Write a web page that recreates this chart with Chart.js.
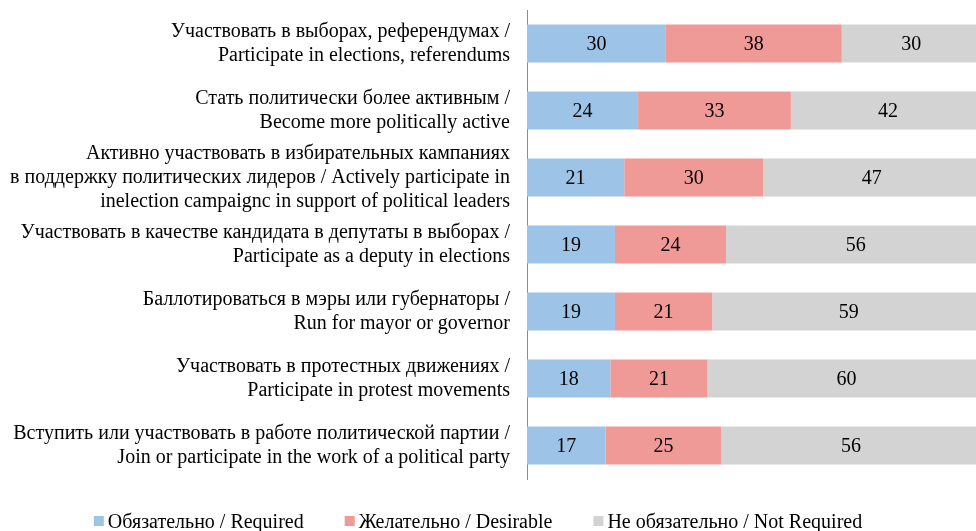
<!DOCTYPE html>
<html>
<head>
<meta charset="utf-8">
<script src="https://cdn.jsdelivr.net/npm/chart.js@4/dist/chart.umd.min.js"></script>
<style>
html,body{margin:0;padding:0;background:#fff;overflow:hidden;}
#wrap{position:relative;width:976px;height:531px;}
</style>
</head>
<body>
<div id="wrap"><canvas id="c"></canvas></div>
<script>
const categories = [
  ["Участвовать в выборах, референдумах /", "Participate in elections, referendums"],
  ["Стать политически более активным /", "Become more politically active"],
  ["Активно участвовать в избирательных кампаниях", "в поддержку политических лидеров / Actively participate in", "inelection campaignc in support of political leaders"],
  ["Участвовать в качестве кандидата в депутаты в выборах /", "Participate as a deputy in elections"],
  ["Баллотироваться в мэры или губернаторы /", "Run for mayor or governor"],
  ["Участвовать в протестных движениях /", "Participate in protest movements"],
  ["Вступить или участвовать в работе политической партии /", "Join or participate in the work of a political party"]
];
const seriesNames = ["Обязательно / Required", "Желательно / Desirable", "Не обязательно / Not Required"];
const required = [30, 24, 21, 19, 19, 18, 17];
const desirable = [38, 33, 30, 24, 21, 21, 25];
const notRequired = [30, 42, 47, 56, 59, 60, 56];

const FONT = "'Liberation Serif', 'Times New Roman', serif";
const FS = 20;

const valueLabels = {
  id: 'valueLabels',
  afterDatasetsDraw(chart) {
    const ctx = chart.ctx;
    ctx.save();
    ctx.font = FS + "px " + FONT;
    ctx.fillStyle = "#000";
    ctx.textAlign = "center";
    ctx.textBaseline = "middle";
    chart.data.datasets.forEach((ds, di) => {
      const meta = chart.getDatasetMeta(di);
      meta.data.forEach((el, i) => {
        const cx = (el.x + el.base) / 2;
        ctx.fillText(String(ds.data[i]), cx, el.y + 1);
      });
    });
    ctx.restore();
  }
};

const bottomLegend = {
  id: 'bottomLegend',
  afterDraw(chart) {
    const ctx = chart.ctx;
    ctx.save();
    ctx.font = FS + "px " + FONT;
    ctx.textBaseline = "alphabetic";
    ctx.textAlign = "left";
    const box = 10, gapBox = 4, gapItem = 41;
    const items = chart.data.datasets.map(ds => ({
      text: ds.label, color: ds.backgroundColor, w: ctx.measureText(ds.label).width
    }));
    let total = 0;
    items.forEach((it, i) => { total += box + gapBox + it.w + (i ? gapItem : 0); });
    let x = 478 - total / 2;
    const baseline = 528;
    items.forEach(it => {
      ctx.fillStyle = it.color;
      ctx.fillRect(x, baseline - 12, box, box);
      x += box + gapBox;
      ctx.fillStyle = "#000";
      ctx.fillText(it.text, x, baseline);
      x += it.w + gapItem;
    });
    ctx.restore();
  }
};

new Chart(document.getElementById('c'), {
  type: 'bar',
  data: {
    labels: categories,
    datasets: [
      { label: seriesNames[0], data: required, backgroundColor: '#9DC3E6' },
      { label: seriesNames[1], data: desirable, backgroundColor: '#F09A98' },
      { label: seriesNames[2], data: notRequired, backgroundColor: '#D3D3D3' }
    ]
  },
  options: {
    indexAxis: 'y',
    responsive: true,
    maintainAspectRatio: false,
    animation: false,
    barPercentage: 0.57,
    categoryPercentage: 1,
    layout: { padding: { top: 10, right: 0, left: 0, bottom: 52 } },
    scales: {
      x: {
        stacked: true,
        min: 0,
        max: 97,
        display: false
      },
      y: {
        stacked: true,
        grid: { display: false, drawTicks: false },
        border: { display: true, color: '#8c8c8c', width: 1 },
        ticks: {
          color: '#000',
          font: { family: FONT, size: FS, lineHeight: 1.2 },
          padding: 17,
          autoSkip: false
        },
        afterFit(scale) {
          scale.width = 527;
          scale.paddingTop = 0;
          scale.paddingBottom = 0;
        }
      }
    },
    plugins: {
      legend: { display: false },
      tooltip: { enabled: false }
    }
  },
  plugins: [valueLabels, bottomLegend]
});
</script>
</body>
</html>
